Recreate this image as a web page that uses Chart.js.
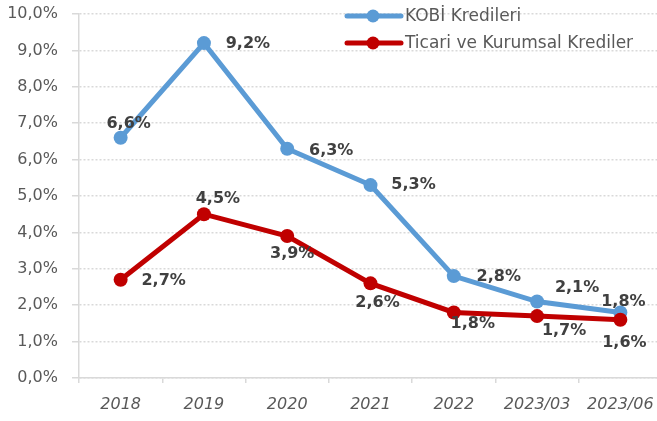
<!DOCTYPE html>
<html>
<head>
<meta charset="utf-8">
<script src="https://cdn.jsdelivr.net/npm/chart.js@4"></script>
<style>
  html, body { margin: 0; padding: 0; background: #fff; overflow: hidden; }
  #wrap { width: 657px; height: 421px; overflow: hidden; }
  #chart { display: block; }
</style>
</head>
<body>
<div id="wrap"><canvas id="chart" width="669" height="421"></canvas></div>
<script>
// Data
const categories = ["2018", "2019", "2020", "2021", "2022", "2023/03", "2023/06"];
const kobiValues = [6.6, 9.2, 6.3, 5.3, 2.8, 2.1, 1.8];
const ticariValues = [2.7, 4.5, 3.9, 2.6, 1.8, 1.7, 1.6];
const seriesNames = ["KOBİ Kredileri", "Ticari ve Kurumsal Krediler"];
const yTicks = [0, 1, 2, 3, 4, 5, 6, 7, 8, 9, 10];

// Label placement (offset from each point, px)
const kobiLabelOffsets = [[8, -14], [44, 1], [44, 2], [43, 0], [45, 1], [40, -14], [3, -11]];
const ticariLabelOffsets = [[43, 1], [14, -15], [5, 18], [7, 19], [19, 11], [27, 15], [4, 23]];

const BLUE = "#5B9BD5";
const RED = "#C00000";
const GRID = "#D9D9D9";
const TEXT = "#595959";

const fmt = v => v.toFixed(1).replace(".", ",") + "%";

// Data labels
const dataLabels = {
  id: "dataLabels",
  afterDatasetsDraw(chart) {
    const ctx = chart.ctx;
    ctx.save();
    ctx.font = "bold 16px 'DejaVu Sans'";
    ctx.fillStyle = "#404040";
    ctx.textAlign = "center";
    ctx.textBaseline = "middle";
    chart.data.datasets.forEach((ds, i) => {
      const meta = chart.getDatasetMeta(i);
      meta.data.forEach((pt, j) => {
        const off = ds.labelOffsets[j];
        ctx.fillText(fmt(ds.data[j]), pt.x + off[0], pt.y + off[1]);
      });
    });
    ctx.restore();
  }
};

// Legend: line with a dot, top right
const lineLegend = {
  id: "lineLegend",
  afterDraw(chart) {
    const ctx = chart.ctx;
    ctx.save();
    ctx.font = "17px 'DejaVu Sans'";
    ctx.textBaseline = "middle";
    ctx.textAlign = "left";
    chart.data.datasets.forEach((ds, i) => {
      const y = 16 + i * 27;
      ctx.strokeStyle = ds.borderColor;
      ctx.lineWidth = 5;
      ctx.lineCap = "round";
      ctx.beginPath();
      ctx.moveTo(347, y);
      ctx.lineTo(401, y);
      ctx.stroke();
      ctx.fillStyle = ds.borderColor;
      ctx.beginPath();
      ctx.arc(373, y, 6.5, 0, Math.PI * 2);
      ctx.fill();
      ctx.fillStyle = TEXT;
      ctx.fillText(ds.label, 405, y + 1);
    });
    ctx.restore();
  }
};

new Chart(document.getElementById("chart"), {
  type: "line",
  data: {
    labels: categories,
    datasets: [
      {
        label: seriesNames[0],
        data: kobiValues,
        labelOffsets: kobiLabelOffsets,
        borderColor: BLUE,
        backgroundColor: BLUE,
        pointBackgroundColor: BLUE,
        pointBorderColor: BLUE,
        borderWidth: 5,
        pointRadius: 7,
        pointBorderWidth: 0,
        tension: 0,
        order: 1
      },
      {
        label: seriesNames[1],
        data: ticariValues,
        labelOffsets: ticariLabelOffsets,
        borderColor: RED,
        backgroundColor: RED,
        pointBackgroundColor: RED,
        pointBorderColor: RED,
        borderWidth: 5,
        pointRadius: 7,
        pointBorderWidth: 0,
        tension: 0,
        order: 0
      }
    ]
  },
  options: {
    responsive: false,
    animation: false,
    // canvas is wider than the window: the plot runs past the right edge, as in the original
    layout: { padding: { top: 14, right: 0, bottom: 0, left: 0 } },
    plugins: {
      legend: { display: false },
      tooltip: { enabled: false }
    },
    scales: {
      x: {
        offset: true,
        grid: { offset: true, drawOnChartArea: false, tickLength: 5, color: GRID, lineWidth: 1.5 },
        border: { color: GRID, width: 1.5 },
        ticks: {
          font: { family: "DejaVu Sans", size: 16, style: "italic" },
          color: TEXT,
          padding: 12,
          maxRotation: 0,
          autoSkip: false
        },
        afterFit(s) {
          s.height = 43;
          s.paddingLeft = 0;
          s.paddingRight = 0;
        }
      },
      y: {
        min: 0,
        max: 10,
        afterBuildTicks(s) { s.ticks = yTicks.map(v => ({ value: v })); },
        ticks: {
          font: { family: "DejaVu Sans", size: 16 },
          color: TEXT,
          padding: 14,
          callback: v => fmt(v)
        },
        grid: { color: GRID, lineWidth: 1.5, tickLength: 7, tickBorderDash: [] },
        border: { color: GRID, width: 1.5, dash: [2, 2] },
        afterFit(s) {
          s.width = 79;
          s.paddingTop = 0;
          s.paddingBottom = 0;
        }
      }
    }
  },
  plugins: [dataLabels, lineLegend]
});
</script>
</body>
</html>
